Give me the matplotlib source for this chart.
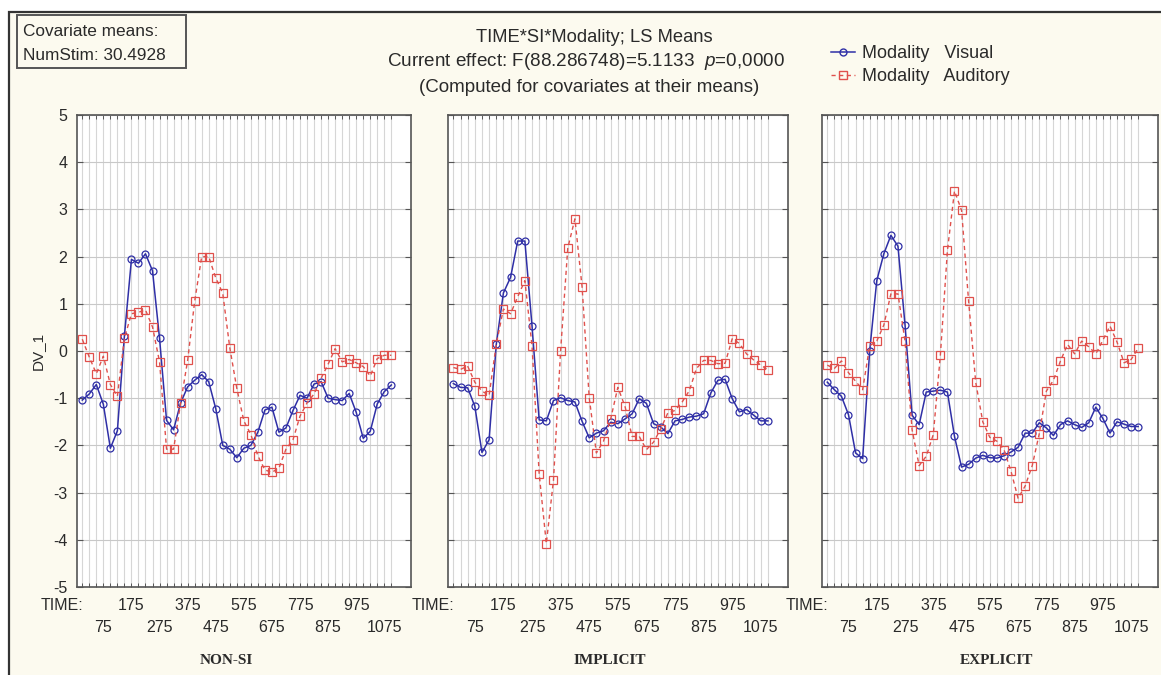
"""LS means plot (STATISTICA style): DV_1 over TIME, per SI condition and modality."""

import matplotlib

matplotlib.use("Agg")
import matplotlib.pyplot as plt  # noqa: E402
from matplotlib.lines import Line2D  # noqa: E402
from matplotlib.patches import Rectangle  # noqa: E402

W, H = 1161, 675

TIMES = list(range(0, 1101, 25))  # 45 TIME levels
PANELS = ["NON-SI", "IMPLICIT", "EXPLICIT"]

NONSI_VISUAL = [-1.04, -0.91, -0.71, -1.13, -2.06, -1.69, 0.32, 1.94, 1.86, 2.06,
                1.70, 0.27, -1.47, -1.67, -1.10, -0.76, -0.62, -0.50, -0.65, -1.22,
                -2.00, -2.08, -2.26, -2.06, -2.00, -1.72, -1.25, -1.19, -1.72, -1.63,
                -1.26, -0.94, -1.00, -0.70, -0.65, -1.00, -1.03, -1.05, -0.90, -1.30,
                -1.85, -1.70, -1.12, -0.86, -0.72]
NONSI_AUDITORY = [0.25, -0.13, -0.48, -0.11, -0.71, -0.96, 0.27, 0.79, 0.82, 0.87,
                  0.51, -0.23, -2.08, -2.08, -1.10, -0.20, 1.05, 2.00, 2.00, 1.55,
                  1.22, 0.07, -0.79, -1.48, -1.77, -2.22, -2.52, -2.57, -2.48, -2.08,
                  -1.88, -1.38, -1.10, -0.91, -0.58, -0.28, 0.05, -0.23, -0.18, -0.25,
                  -0.33, -0.53, -0.16, -0.09, -0.09]

IMPLICIT_VISUAL = [-0.69, -0.77, -0.78, -1.17, -2.15, -1.88, 0.14, 1.23, 1.56, 2.33,
                   2.33, 0.53, -1.46, -1.48, -1.05, -0.99, -1.05, -1.08, -1.49, -1.84,
                   -1.74, -1.69, -1.51, -1.54, -1.44, -1.33, -1.01, -1.11, -1.54, -1.61,
                   -1.75, -1.48, -1.45, -1.40, -1.38, -1.33, -0.89, -0.62, -0.60, -1.01,
                   -1.29, -1.24, -1.36, -1.48, -1.48]
IMPLICIT_AUDITORY = [-0.35, -0.39, -0.32, -0.66, -0.85, -0.94, 0.14, 0.89, 0.79, 1.15,
                     1.49, 0.11, -2.60, -4.08, -2.74, 0.01, 2.18, 2.80, 1.36, -0.99,
                     -2.16, -1.91, -1.44, -0.77, -1.17, -1.81, -1.81, -2.09, -1.93, -1.65,
                     -1.31, -1.26, -1.08, -0.84, -0.37, -0.20, -0.20, -0.27, -0.26, 0.26,
                     0.16, -0.06, -0.19, -0.30, -0.40]

EXPLICIT_VISUAL = [-0.66, -0.82, -0.96, -1.35, -2.16, -2.28, 0.01, 1.49, 2.06, 2.45,
                   2.22, 0.55, -1.36, -1.56, -0.87, -0.85, -0.83, -0.87, -1.81, -2.46,
                   -2.40, -2.27, -2.21, -2.26, -2.27, -2.22, -2.14, -2.04, -1.74, -1.74,
                   -1.52, -1.63, -1.79, -1.56, -1.48, -1.56, -1.62, -1.52, -1.19, -1.43,
                   -1.74, -1.50, -1.55, -1.60, -1.60]
EXPLICIT_AUDITORY = [-0.30, -0.37, -0.21, -0.46, -0.64, -0.82, 0.11, 0.21, 0.55, 1.21,
                     1.21, 0.21, -1.67, -2.43, -2.23, -1.77, -0.09, 2.13, 3.39, 2.98,
                     1.05, -0.66, -1.50, -1.83, -1.91, -2.09, -2.55, -3.12, -2.86, -2.43,
                     -1.75, -0.85, -0.62, -0.21, 0.14, -0.06, 0.21, 0.09, -0.06, 0.23,
                     0.53, 0.19, -0.25, -0.18, 0.06]

VISUAL = [NONSI_VISUAL, IMPLICIT_VISUAL, EXPLICIT_VISUAL]
AUDITORY = [NONSI_AUDITORY, IMPLICIT_AUDITORY, EXPLICIT_AUDITORY]

BG = "#fcfaef"
BLUE = "#2f2fa6"
RED = "#e0504c"
INK = "#2a2a2a"

# axes boxes in pixels: (left, right)
PANEL_X = [(77, 411), (448, 788), (822, 1158)]
AX_TOP, AX_BOTTOM = 115, 587

plt.rcParams["font.family"] = ["Liberation Sans", "DejaVu Sans"]
plt.rcParams["mathtext.fontset"] = "custom"
plt.rcParams["mathtext.it"] = "Liberation Sans:italic"
plt.rcParams["mathtext.rm"] = "Liberation Sans"
plt.rcParams["axes.unicode_minus"] = False


def px(x, y):
    """pixel (from top-left) -> figure fraction"""
    return x / W, 1 - y / H


def draw_panel(fig, k):
    left, right = PANEL_X[k]
    x0, y0 = left / W, 1 - AX_BOTTOM / H
    ax_h = AX_BOTTOM - AX_TOP
    ax = fig.add_axes([x0, y0, (right - left) / W, ax_h / H])
    ax.set_facecolor("white")
    idx = list(range(len(TIMES)))

    ax.plot(idx, VISUAL[k], "-o", color=BLUE, lw=1.1, ms=5.0,
            mfc="none", mec=BLUE, mew=0.9, zorder=3)
    ax.plot(idx, AUDITORY[k], "--s", color=RED, lw=1.0, ms=5.4,
            mfc="none", mec=RED, mew=0.9, dashes=(3, 2.5), zorder=3)

    ax.set_xlim(-0.75, 46.8)
    ax.set_ylim(-5, 5)
    ax.set_yticks(range(-5, 6))
    ax.set_xticks(idx)
    ax.set_xticklabels([])
    ax.grid(True, axis="x", color="#d6d6d6", lw=0.8)
    ax.grid(True, axis="y", color="#c8c8c8", lw=0.8)
    ax.set_axisbelow(True)
    ax.tick_params(axis="x", direction="in", top=True, bottom=True, length=3,
                   width=0.7, color="#555555")
    ax.tick_params(axis="y", direction="in", left=True, right=True, length=4,
                   width=0.8, color="#555555", labelsize=11.5, labelcolor=INK, pad=7)
    if k > 0:
        ax.tick_params(axis="y", labelleft=False)
    for s in ax.spines.values():
        s.set_color("#555555")
        s.set_linewidth(1.2)

    # TIME labels in two staggered rows, every 4th level
    trans = ax.get_xaxis_transform()
    row1, row2 = -18 / ax_h, -40 / ax_h
    ax.text(0.1, row1, "TIME:", transform=trans, ha="right", va="center",
            fontsize=11.5, color=INK)
    for i, t in enumerate(TIMES):
        if i % 4 != 3:
            continue
        row = row2 if (i // 4) % 2 == 0 else row1
        ax.text(i, row, str(t), transform=trans, ha="center", va="center",
                fontsize=11.5, color=INK)

    if k == 0:
        ax.set_ylabel("DV_1", fontsize=11, color=INK, labelpad=6)

    centres = [226, 610, 996]
    fig.text(*px(centres[k], 660), PANELS[k], ha="center", va="center",
             fontsize=11, fontweight="bold", color=INK,
             family=["Liberation Serif", "DejaVu Serif"])


def main():
    fig = plt.figure(figsize=(W / 100, H / 100), dpi=100)
    fig.patch.set_facecolor("white")

    # outer frame: page area is cream with a dark top/left border
    fig.add_artist(Rectangle(px(9, 700), 1.2, (700 - 12) / H, transform=fig.transFigure,
                             facecolor=BG, edgecolor="#333333", lw=1.6, zorder=0))

    # covariate box
    fig.add_artist(Rectangle(px(17, 68), 169 / W, 53 / H, transform=fig.transFigure,
                             facecolor=BG, edgecolor="#555555", lw=1.4, zorder=1))
    fig.text(*px(23, 32), "Covariate means:", ha="left", va="center",
             fontsize=12.4, color=INK)
    fig.text(*px(23, 55), "NumStim: 30.4928", ha="left", va="center",
             fontsize=12.4, color=INK)

    # header
    fig.text(*px(594, 38), "TIME*SI*Modality; LS Means", ha="center", va="center",
             fontsize=13.2, color=INK)
    fig.text(*px(586, 62),
             r"Current effect: F(88.286748)=5.1133  $\it{p}$=0,0000",
             ha="center", va="center", fontsize=13.6, color=INK)
    fig.text(*px(589, 87), "(Computed for covariates at their means)",
             ha="center", va="center", fontsize=13.5, color=INK)

    for k in range(3):
        draw_panel(fig, k)

    handles = [
        Line2D([], [], color=BLUE, lw=1.1, marker="o", ms=5.0, mfc="none", mec=BLUE),
        Line2D([], [], color=RED, lw=1.0, ls="--", dashes=(3, 2.5), marker="s",
               ms=5.4, mfc="none", mec=RED),
    ]
    fig.legend(handles, ["Modality   Visual", "Modality   Auditory"],
               loc="upper left", bbox_to_anchor=px(822, 36), frameon=False,
               fontsize=13, handlelength=1.3, handletextpad=0.4,
               labelspacing=0.35, borderpad=0, labelcolor=INK)

    fig.savefig("out.png", dpi=100, facecolor=fig.get_facecolor())
    plt.close(fig)


if __name__ == "__main__":
    main()
